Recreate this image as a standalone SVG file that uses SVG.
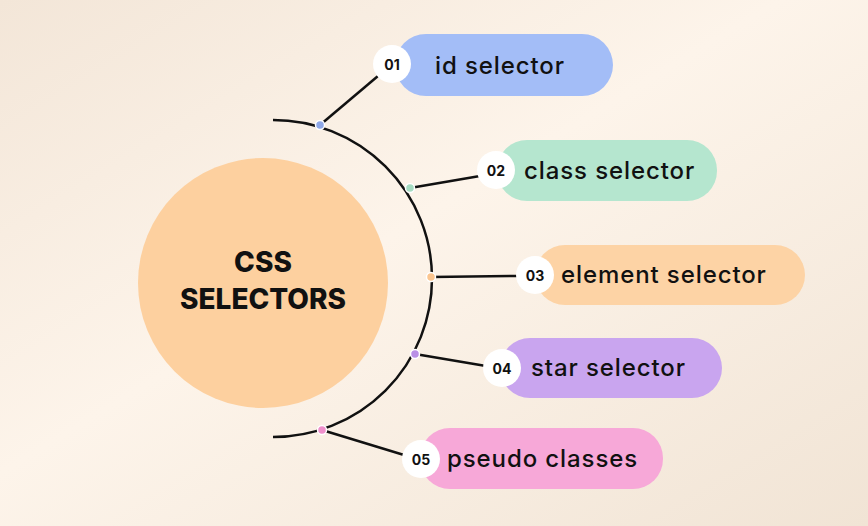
<svg xmlns="http://www.w3.org/2000/svg" width="868" height="526" viewBox="0 0 868 526">
<defs>
<linearGradient id="bg" x1="0" y1="0" x2="1" y2="1">
<stop offset="0" stop-color="#f3e6d8"/><stop offset="0.45" stop-color="#fdf4ea"/><stop offset="1" stop-color="#f1e4d5"/>
</linearGradient>
<style>
.pill{stroke:none}
.num{fill:#fff}
.nt{font-family:Inter,"Liberation Sans",sans-serif;font-size:14px;font-weight:700;fill:#111;text-anchor:middle;dominant-baseline:central}
.lt{font-family:Inter,"Liberation Sans",sans-serif;font-size:24px;font-weight:500;letter-spacing:0.9px;fill:#111;dominant-baseline:central}
.ln{stroke:#111;stroke-width:2.5;fill:none}
.dot{stroke:#fff;stroke-width:1.5}
</style>
</defs>
<rect width="868" height="526" fill="url(#bg)"/>
<g id="center">
<circle cx="263" cy="283" r="125" fill="#fdd09f"/>
<text x="263" y="262" text-anchor="middle" dominant-baseline="central" font-family="Inter,'Liberation Sans',sans-serif" font-size="28" font-weight="800" fill="#111">CSS</text>
<text x="263" y="299" text-anchor="middle" dominant-baseline="central" font-family="Inter,'Liberation Sans',sans-serif" font-size="28" font-weight="800" fill="#111">SELECTORS</text>
</g>
<g id="connectors">
<path class="ln" d="M273 120 A159 158.5 0 0 1 273 437"/>
<line class="ln" x1="320" y1="125" x2="378" y2="76"/>
<line class="ln" x1="410" y1="188" x2="480" y2="176"/>
<line class="ln" x1="431" y1="277" x2="518" y2="276"/>
<line class="ln" x1="415" y1="354" x2="486" y2="366"/>
<line class="ln" x1="322" y1="430" x2="404" y2="455"/>
<circle class="dot" cx="320" cy="125" r="4.5" fill="#8fa8e8"/>
<circle class="dot" cx="410" cy="188" r="4.5" fill="#a6dcc2"/>
<circle class="dot" cx="431" cy="277" r="4.5" fill="#fbc58f"/>
<circle class="dot" cx="415" cy="354" r="4.5" fill="#b98fe6"/>
<circle class="dot" cx="322" cy="430" r="4.5" fill="#ef8fcb"/>
</g>
<g id="n1"><rect class="pill" x="395" y="34" width="218" height="62" rx="31" fill="#a3bdf7"/><circle class="num" cx="392" cy="64" r="19"/><text class="nt" x="392" y="64">01</text><text class="lt" x="435" y="65">id selector</text></g>
<g id="n2"><rect class="pill" x="497" y="140" width="220" height="61" rx="30" fill="#b5e6cf"/><circle class="num" cx="496" cy="170" r="19"/><text class="nt" x="496" y="170">02</text><text class="lt" x="524" y="170">class selector</text></g>
<g id="n3"><rect class="pill" x="535" y="245" width="270" height="60" rx="30" fill="#fdd3a5"/><circle class="num" cx="535" cy="275" r="19"/><text class="nt" x="535" y="275">03</text><text class="lt" x="561" y="274">element selector</text></g>
<g id="n4"><rect class="pill" x="500" y="338" width="222" height="60" rx="30" fill="#c9a5ef"/><circle class="num" cx="502" cy="368" r="19"/><text class="nt" x="502" y="368">04</text><text class="lt" x="531" y="367">star selector</text></g>
<g id="n5"><rect class="pill" x="420" y="428" width="243" height="61" rx="30" fill="#f7a8d8"/><circle class="num" cx="421" cy="459" r="19"/><text class="nt" x="421" y="459">05</text><text class="lt" x="447" y="458">pseudo classes</text></g>
</svg>
